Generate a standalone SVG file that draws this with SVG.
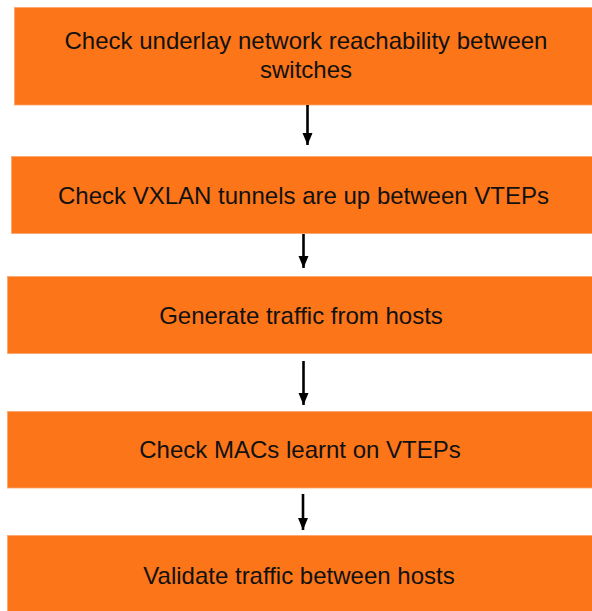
<svg xmlns="http://www.w3.org/2000/svg" width="592" height="611" viewBox="0 0 592 611">
<style>
.box{fill:#FC7518;stroke:#FBA66A;stroke-width:0.8}
.t{font-family:"Liberation Sans",Arial,Helvetica,sans-serif;font-size:24px;fill:#111;text-anchor:middle}
.c{stroke:#000;stroke-width:2.6;fill:none}
</style>
<defs>
<marker id="ah" markerUnits="userSpaceOnUse" markerWidth="12" markerHeight="13" refX="6" refY="12" orient="auto-start-reverse" viewBox="0 0 12 13">
<path d="M1,0 L11,0 L6,12 Z" fill="#000" transform="rotate(-90 6 6)"/>
</marker>
<marker id="arr" markerUnits="userSpaceOnUse" markerWidth="12" markerHeight="12" refX="12" refY="6" orient="auto" viewBox="0 0 12 12">
<path d="M0,1 L12,6 L0,11 Z" fill="#000"/>
</marker>
</defs>
<rect width="592" height="611" fill="#fff"/>
<g id="node1"><rect class="box" x="14.5" y="7.5" width="580" height="97.5"/>
<text class="t" x="306" y="48.5">Check underlay network reachability between</text>
<text class="t" x="306" y="78">switches</text></g>
<g id="node2"><rect class="box" x="11.5" y="156.5" width="583" height="77"/>
<text class="t" x="303.5" y="204">Check VXLAN tunnels are up between VTEPs</text></g>
<g id="node3"><rect class="box" x="7.5" y="276.5" width="587" height="77"/>
<text class="t" x="301" y="324">Generate traffic from hosts</text></g>
<g id="node4"><rect class="box" x="7.5" y="411.5" width="587" height="76.5"/>
<text class="t" x="300" y="458">Check MACs learnt on VTEPs</text></g>
<g id="node5"><rect class="box" x="7.5" y="535.5" width="587" height="80"/>
<text class="t" x="299" y="584">Validate traffic between hosts</text></g>
<g id="connectors">
<line class="c" x1="307.5" y1="105" x2="307.5" y2="145" marker-end="url(#arr)"/>
<line class="c" x1="303.5" y1="234" x2="303.5" y2="268" marker-end="url(#arr)"/>
<line class="c" x1="303.5" y1="361" x2="303.5" y2="405" marker-end="url(#arr)"/>
<line class="c" x1="303" y1="494" x2="303" y2="530" marker-end="url(#arr)"/>
</g>
</svg>
